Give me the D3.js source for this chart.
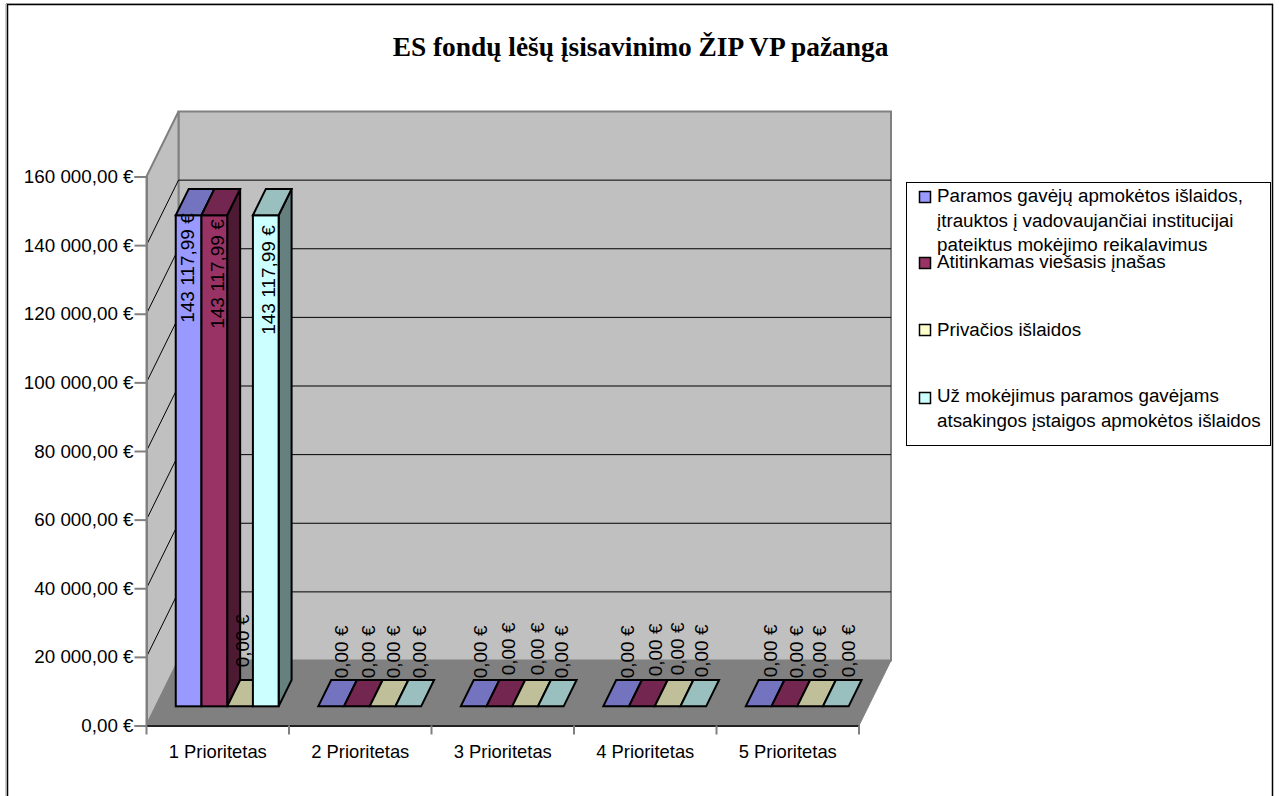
<!DOCTYPE html>
<html>
<head>
<meta charset="utf-8">
<script src="https://cdn.jsdelivr.net/npm/d3@7/dist/d3.min.js"></script>
<style>
html,body{margin:0;padding:0;background:#fff}
svg{display:block}
text{font-family:"Liberation Sans",Arial,sans-serif;font-size:18.8px;fill:#000}
</style>
</head>
<body>
<svg id="c" width="1279" height="796"></svg>
<script>
const titleText = "ES fondų lėšų įsisavinimo ŽIP VP pažanga";
const categories = ["1 Prioritetas","2 Prioritetas","3 Prioritetas","4 Prioritetas","5 Prioritetas"];
const seriesNames = [
  ["Paramos gavėjų apmokėtos išlaidos,","įtrauktos į vadovaujančiai institucijai","pateiktus mokėjimo reikalavimus"],
  ["Atitinkamas viešasis įnašas"],
  ["Privačios išlaidos"],
  ["Už mokėjimus paramos gavėjams","atsakingos įstaigos apmokėtos išlaidos"]
];
const paramosGaveju = [143117.99,0,0,0,0];
const viesasisInasas = [143117.99,0,0,0,0];
const privaciosIslaidos = [0,0,0,0,0];
const uzMokejimus = [143117.99,0,0,0,0];
const seriesValues = [paramosGaveju,viesasisInasas,privaciosIslaidos,uzMokejimus];
const seriesColors = ["#9999FF","#993366","#FFFFCC","#CCFFFF"];
const topColors = ["#7373BF","#732650","#BFBF99","#99BFBF"];
const sideColors = ["#4D4D80","#4D1A33","#808066","#668080"];
const yTicks = [0,20000,40000,60000,80000,100000,120000,140000,160000];

// layout
const L=146.5,R=859,Y0=725.5,Y1=176.5,DX=32,DY=-65;
const frontF=0.295, backF=0.70;
const y=d3.scaleLinear().domain([0,160000]).range([Y0,Y1]);
const x=d3.scaleBand().domain(categories).range([L,R]);
const inner=d3.scaleBand().domain(d3.range(4)).range([0,x.bandwidth()]).paddingInner(0).paddingOuter(0.77);
const locale=d3.formatLocale({decimal:",",thousands:" ",grouping:[3],currency:["",""]});
const money=v=>locale.format(",.2f")(v)+" €";

const svg=d3.select("#c");
const pts=a=>a.map(p=>p.join(",")).join(" ");

// chart frame
svg.append("path").attr("d","M7.5,796V4.5H1272.5V796").attr("fill","none").attr("stroke","#000").attr("stroke-width",1.5);
svg.append("path").attr("d","M6,3.5H1273").attr("fill","none").attr("stroke","#999").attr("stroke-width",1);
svg.append("path").attr("d","M6,4V796").attr("fill","none").attr("stroke","#999").attr("stroke-width",1);

svg.append("text").attr("x",640.5).attr("y",56).attr("text-anchor","middle")
  .style("font-family","'Liberation Serif',serif").style("font-weight","bold").style("font-size","27.4px").text(titleText);

// walls
const wall=svg.append("g");
wall.append("polygon").attr("points",pts([[L+DX,Y1+DY],[R+DX,Y1+DY],[R+DX,Y0+DY],[L+DX,Y0+DY]])).attr("fill","#C0C0C0").attr("stroke","#808080").attr("stroke-width",2);
wall.append("polygon").attr("points",pts([[L,Y1],[L+DX,Y1+DY],[L+DX,Y0+DY],[L,Y0]])).attr("fill","#C0C0C0").attr("stroke","#808080").attr("stroke-width",2);
yTicks.slice(1,-1).forEach(t=>{
  wall.append("path").attr("d",`M${L},${y(t)}L${L+DX},${y(t)+DY}H${R+DX}`).attr("fill","none").attr("stroke","#000").attr("stroke-width",1);
});
wall.append("polygon").attr("points",pts([[L,Y0],[L+DX,Y0+DY],[R+DX,Y0+DY],[R,Y0]])).attr("fill","#808080").attr("stroke","#808080").attr("stroke-width",1);

// axes
const yAxis=d3.axisLeft(y).tickValues(yTicks).tickFormat(money).tickSize(12).tickPadding(1);
const ga=svg.append("g").attr("transform",`translate(${L},0)`).call(yAxis);
ga.select(".domain").attr("stroke","#808080").attr("stroke-width",2);
ga.selectAll(".tick line").attr("stroke","#808080").attr("stroke-width",2);
ga.selectAll("text").style("font-family","'Liberation Sans'").style("font-size","18.8px").attr("fill","#000");
const xAxis=d3.axisBottom(x).tickSize(0).tickPadding(19);
const gb=svg.append("g").attr("transform",`translate(0,${Y0})`).call(xAxis);
gb.select(".domain").attr("stroke","#222").attr("stroke-width",2);
gb.selectAll("text").style("font-family","'Liberation Sans'").style("font-size","18.4px").attr("fill","#000");
const edges=categories.map(c=>x(c)).concat([R]);
svg.append("g").selectAll("line").data(edges).join("line")
  .attr("x1",d=>d).attr("x2",d=>d).attr("y1",Y0).attr("y2",Y0+9)
  .attr("stroke","#808080").attr("stroke-width",2);

// bars
const fx=frontF*DX,fy=frontF*DY,bx=backF*DX,by=backF*DY;
const cells=[];
categories.forEach(c=>seriesValues.forEach((vals,s)=>{
  cells.push({c,s,v:vals[categories.indexOf(c)]});
}));
const barG=svg.append("g").attr("stroke","#000").attr("stroke-width",2).attr("stroke-linejoin","miter");
cells.forEach(d=>{
  const x0=x(d.c)+inner(d.s)+fx, x1=x0+inner.bandwidth();
  const yb=Y0+fy, yt=y(d.v)+fy, ddx=bx-fx, ddy=by-fy;
  if(d.v>0){
    barG.append("polygon").attr("points",pts([[x1,yb],[x1+ddx,yb+ddy],[x1+ddx,yt+ddy],[x1,yt]])).attr("fill",sideColors[d.s]);
    barG.append("rect").attr("x",x0).attr("y",yt).attr("width",x1-x0).attr("height",yb-yt).attr("fill",seriesColors[d.s]);
  }
  barG.append("polygon").attr("points",pts([[x0,yt],[x0+ddx,yt+ddy],[x1+ddx,yt+ddy],[x1,yt]])).attr("fill",topColors[d.s]);
});

// data labels: small placement nudges, in series order per category
const nudgeX=[[-1,3,-10,2],[-2,-1,-1,-1],[-5,-3,0,-2],[-1,1,-2,-4],[0,0,-3,0]];
const nudgeY=[[0,6,-11,12],[0,0,0,0],[0,-3,-3,0],[0,-2,-3,-1],[-1,0,0,-1]];
const lab=svg.append("g");
cells.forEach(d=>{
  const ci=categories.indexOf(d.c);
  const x0=x(d.c)+inner(d.s)+fx;
  const tall=d.v>0;
  const lx=x0+(tall?13:25)+nudgeX[ci][d.s];
  const ly=(tall?y(d.v)+fy-2:Y0+fy-28)+nudgeY[ci][d.s];
  lab.append("text").attr("transform",`translate(${lx},${ly}) rotate(-90)`)
    .attr("dy","0.35em").attr("text-anchor",tall?"end":"start").style("font-size","19px").text(money(d.v));
});

// legend
const lg=svg.append("g");
lg.append("rect").attr("x",906.5).attr("y",182.5).attr("width",364).attr("height",263).attr("fill","#fff").attr("stroke","#000").attr("stroke-width",1);
const swatchY=[197,263,330,398];
const lineY=[[202,227,251],[268],[336],[402,427]];
seriesNames.forEach((lines,i)=>{
  lg.append("rect").attr("x",919.5).attr("y",swatchY[i]-5.5).attr("width",11).attr("height",11)
    .attr("fill",seriesColors[i]).attr("stroke","#000").attr("stroke-width",1.5);
  lines.forEach((t,j)=>lg.append("text").attr("x",937).attr("y",lineY[i][j]).text(t));
});
</script>
</body>
</html>
